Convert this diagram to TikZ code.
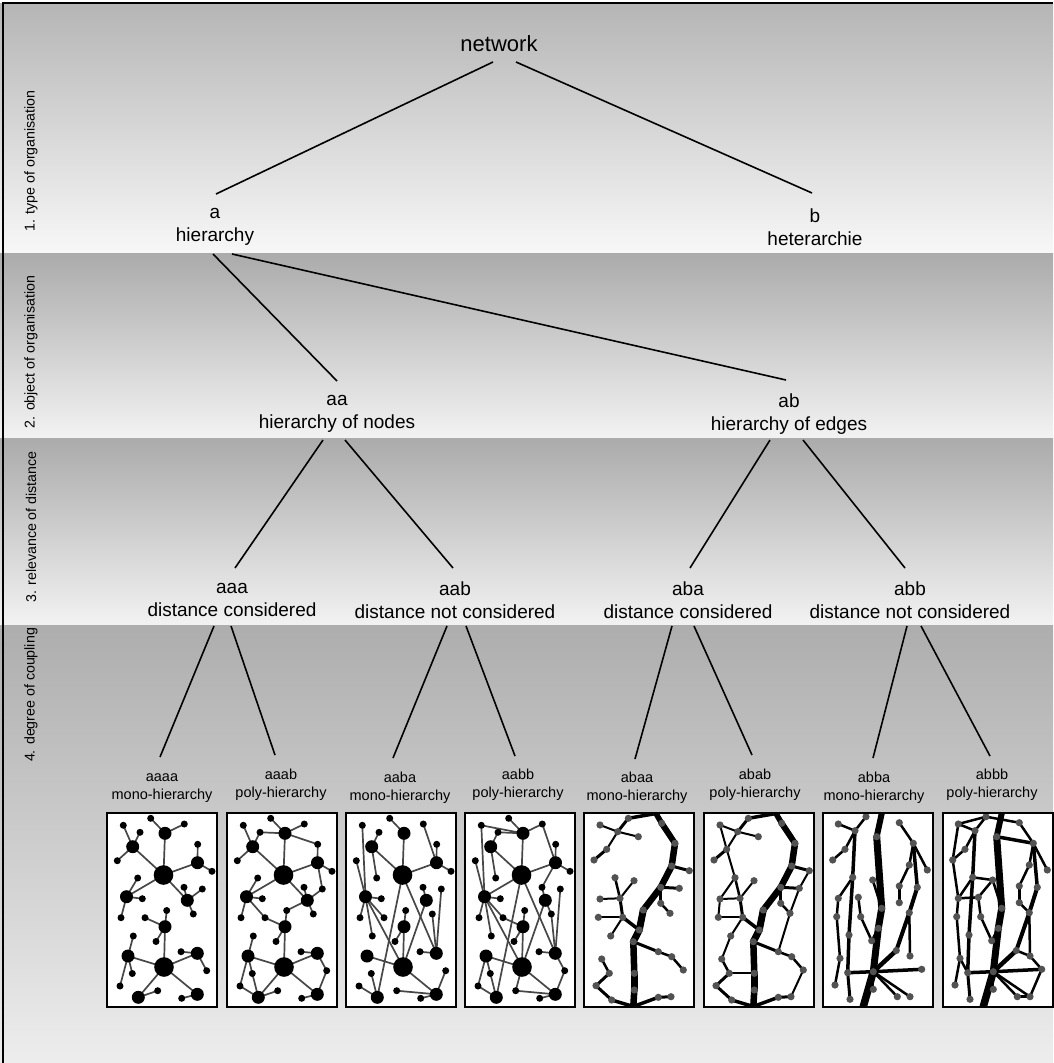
\documentclass[tikz,border=0pt]{standalone}
\usepackage{fontspec}
\setmainfont{Liberation Sans}
\usetikzlibrary{calc}

\newcommand\NodeNetCoords{%
\coordinate (H1) at (56.5,62);
\coordinate (H2) at (57,154);
\coordinate (M1) at (58,20.3);
\coordinate (M2) at (25.7,33.7);
\coordinate (M3) at (90.5,49.7);
\coordinate (M4) at (19.5,83.7);
\coordinate (M5) at (80.3,87.3);
\coordinate (M6) at (58,113.7);
\coordinate (M7) at (21,143);
\coordinate (M8) at (90.3,140.3);
\coordinate (M9) at (31.3,184.3);
\coordinate (M10) at (90.3,181.3);
\coordinate (s1) at (43.7,5.3);
\coordinate (s2) at (77.3,11);
\coordinate (s3) at (16.3,12.3);
\coordinate (s4) at (33,19.3);
\coordinate (s5) at (10.3,47.7);
\coordinate (s6) at (90.7,31.3);
\coordinate (s7) at (105,58.3);
\coordinate (s8) at (30.7,65);
\coordinate (s9) at (35.3,85.7);
\coordinate (s10) at (14,104.7);
\coordinate (s11) at (77,74.3);
\coordinate (s12) at (95.3,76);
\coordinate (s13) at (86.3,101);
\coordinate (s14) at (38,104.7);
\coordinate (s15) at (59.7,97.5);
\coordinate (s16) at (49,128.5);
\coordinate (s17) at (26.3,123);
\coordinate (s18) at (25.3,160.5);
\coordinate (s19) at (13,173);
\coordinate (s20) at (74,138.7);
\coordinate (s21) at (99.7,157.7);
\coordinate (s22) at (50.7,177.7);
\coordinate (s23) at (74.7,185.3);
}
\newcommand\NodeNetDots{%
\foreach \n in {H1,H2} \fill[black] (\n) circle (9.8);
\foreach \n in {M1,M2,M3,M4,M5,M6,M7,M8,M9,M10} \fill[black] (\n) circle (6.5);
\foreach \n in {s1,s2,s3,s4,s5,s6,s7,s8,s9,s10,s11,s12,s13,s14,s15,s16,s17,s18,s19,s20,s21,s22,s23} \fill[black] (\n) circle (3.5);
}
\newcommand\EdgeNetACoords{%
\coordinate (T0) at (72,0.5);
\coordinate (T1) at (77.7,10.3);
\coordinate (T2) at (91,30.3);
\coordinate (T3) at (87.7,53);
\coordinate (T4) at (76.7,74.3);
\coordinate (T5) at (59.3,97);
\coordinate (T6) at (55.3,117);
\coordinate (T7) at (49.3,128.7);
\coordinate (T8) at (50.3,160.3);
\coordinate (T9) at (50.3,177);
\coordinate (T10) at (49.3,193.5);
\coordinate (A1) at (44.3,5.3);
\coordinate (A2) at (33.7,18.7);
\coordinate (A3) at (16,12);
\coordinate (A4) at (54.3,23.7);
\coordinate (A5) at (22.7,36.3);
\coordinate (A6) at (10,47);
\coordinate (B1) at (105.3,57.7);
\coordinate (C1) at (95.3,75.3);
\coordinate (C2) at (76.7,90.3);
\coordinate (C3) at (86,100.3);
\coordinate (D1) at (38.7,104.3);
\coordinate (D2) at (14.3,104.3);
\coordinate (D3) at (26.7,123);
\coordinate (D4) at (36,85.3);
\coordinate (D5) at (16,86);
\coordinate (D6) at (31,64.7);
\coordinate (D7) at (50,67.7);
\coordinate (E1) at (74.3,138.7);
\coordinate (E2) at (87.7,143.7);
\coordinate (E3) at (99.3,157);
\coordinate (F1) at (17.7,146);
\coordinate (F2) at (25.3,160.3);
\coordinate (F3) at (12,172.7);
\coordinate (F4) at (27.7,187);
\coordinate (G1) at (74.3,184.3);
\coordinate (G2) at (87,183.7);
}
\newcommand\EdgeNetAEdges{%
\foreach \p/\q/\w in {T0/T1/5.5,T1/T2/6,T2/T3/6.5,T3/T4/6.5,T4/T5/6.5,T5/T6/7,T6/T7/7,T7/T8/6.5,T8/T9/6.5,T9/T10/6.5,
 T0/A1/3.5,A1/A2/3,A2/A3/2,A2/A4/2,A2/A5/2,A5/A6/3,
 T3/B1/3,T4/C1/3,T4/C2/2.5,C2/C3/2.5,
 T6/D1/3.5,D1/D2/2,D1/D3/2,D1/D4/3,D4/D5/2,D4/D6/2.5,D4/D7/2,
 T7/E1/3,E1/E2/2.5,E2/E3/2.5,
 F1/F2/2.5,F2/F3/3,F3/F4/3,F4/T10/3.5,T10/G1/3.5,G1/G2/3}
 \draw[eedge,line width=\w pt] (\p) -- (\q);
}
\newcommand\EdgeNetADots{%
\foreach \n in {T1,T2,T3,T4,T5,T6,T7,T8,T9,A1,A2,A3,A4,A5,A6,B1,C1,C2,C3,D1,D2,D3,D4,D5,D6,D7,E1,E2,E3,F1,F2,F3,F4,G1,G2}
 \fill[edot] (\n) circle (3.6);
}
\newcommand\EdgeNetBCoords{%
\coordinate (U0) at (58.7,0.5);
\coordinate (U1) at (53.7,23.7);
\coordinate (U2) at (58.7,95.3);
\coordinate (U3) at (55.3,115.3);
\coordinate (U4) at (50.3,158.7);
\coordinate (U5) at (50.3,176.3);
\coordinate (U6) at (40.3,193.5);
\coordinate (V0) at (32,17.7);
\coordinate (V1) at (29.7,64.3);
\coordinate (V2) at (26,122);
\coordinate (V3) at (24.7,159.7);
\coordinate (V4) at (27,186.3);
\coordinate (W1) at (15.3,11);
\coordinate (W2) at (43,3.7);
\coordinate (W3) at (22,36.3);
\coordinate (W4) at (9.7,47);
\coordinate (X1) at (15.3,85.3);
\coordinate (X2) at (13.7,103.7);
\coordinate (X3) at (17,145.3);
\coordinate (X4) at (12,172);
\coordinate (Y1) at (35.3,84.3);
\coordinate (Y2) at (37.7,103.7);
\coordinate (Y3) at (48.7,127.7);
\coordinate (Z1) at (49.7,67);
\coordinate (R0) at (76.3,9.7);
\coordinate (R1) at (90.3,30.3);
\coordinate (R2) at (104.3,57);
\coordinate (R3) at (86.3,52);
\coordinate (R4) at (76.3,73);
\coordinate (R5) at (76.3,89.7);
\coordinate (R6) at (94.3,74.3);
\coordinate (R7) at (86.3,99.7);
\coordinate (R8) at (73.3,137.5);
\coordinate (R9) at (87,143);
\coordinate (Q1) at (98.7,156.3);
\coordinate (Q2) at (74.3,183.7);
\coordinate (Q3) at (87,183.7);
}
\newcommand\EdgeNetBEdges{%
\foreach \p/\q/\w in {U0/U1/6,U1/U2/7,U2/U3/7,U3/U4/7,U4/U6/7.5,
 V0/V1/3.5,V1/V2/3.5,V2/V3/3.5,V3/V4/3,V3/U4/3.5,
 V0/W1/2.5,V0/W2/2.5,V0/W3/2.5,W3/W4/2.5,
 V1/X1/2.5,X1/X2/2.5,X2/X3/2.5,X3/X4/2.5,
 Y1/Y2/2.5,Y2/Y3/2.5,Y3/U3/2.5,Z1/U2/2.5,
 R0/R1/2.5,R1/R2/2.5,R1/R3/2.5,R3/R4/2.5,R4/R5/2.5,R1/R6/3.5,R6/R7/4,R7/R8/4,R8/U4/4.5,R7/R9/2.5,
 U4/Q1/3.5,U4/Q2/2.5,U4/Q3/2.5,U4/U5/2}
 \draw[eedge,line width=\w pt] (\p) -- (\q);
}
\newcommand\EdgeNetBDots{%
\foreach \n in {U1,U2,U3,U4,U5,V0,V1,V2,V3,V4,W1,W2,W3,W4,X1,X2,X3,X4,Y1,Y2,Y3,Z1,R0,R1,R2,R3,R4,R5,R6,R7,R8,R9,Q1,Q2,Q3}
 \fill[edot] (\n) circle (3.6);
}

\begin{document}
\begin{tikzpicture}[x=1pt,y=-1pt,
  lbl/.style={font=\fontsize{19}{23}\selectfont,align=center,inner sep=0pt},
  leaf/.style={font=\fontsize{14.5}{18}\selectfont,align=center,inner sep=0pt},
  side/.style={font=\fontsize{14.2}{16}\selectfont,rotate=90,inner sep=0pt},
  tline/.style={line width=1.6pt,black},
  panel/.style={fill=white,minimum width=110pt,minimum height=194pt,inner sep=0pt,outer sep=0pt},
  pborder/.style={line width=1.2pt,black},
  nedge/.style={draw=black!72,line width=1.7pt},
  eedge/.style={draw=black,line cap=round,line join=round},
  edot/.style={fill=black!68}]
\useasboundingbox (0,0) rectangle (1053,1063);
% bands
\shade[top color=black!29,bottom color=black!3] (0,3) rectangle (1053,253);
\shade[top color=black!33,bottom color=black!5] (0,253) rectangle (1053,438);
\shade[top color=black!33,bottom color=black!5] (0,438) rectangle (1053,625);
\shade[top color=black!32,bottom color=black!7] (0,625) rectangle (1053,1063);
\draw[line width=2.5pt] (3,1063) -- (3,3) -- (1053,3);

% side labels
\node[side] (l1) at (31,161) {1. type of organisation};
\node[side] (l2) at (31,352) {2. object of organisation};
\node[side] (l3) at (31,527) {3. relevance of distance};
\node[side] (l4) at (31,695) {4. degree of coupling};

% tree labels
\node[font=\fontsize{22}{26}\selectfont,inner sep=0pt] (net) at (499,44) {network};
\node[lbl] (a) at (215,227) {a\\hierarchy};
\node[lbl] (b) at (815,227) {b\\heterarchie};
\node[lbl] (aa) at (337,414) {aa\\hierarchy of nodes};
\node[lbl] (ab) at (789,414) {ab\\hierarchy of edges};
\node[lbl] (aaa) at (232,600) {aaa\\distance considered};
\node[lbl] (aab) at (455,600) {aab\\distance not considered};
\node[lbl] (aba) at (688,600) {aba\\distance considered};
\node[lbl] (abb) at (910,600) {abb\\distance not considered};
\node[leaf] (aaaa) at (162,788) {aaaa\\mono-hierarchy};
\node[leaf] (aaab) at (281,785) {aaab\\poly-hierarchy};
\node[leaf] (aaba) at (400,788) {aaba\\mono-hierarchy};
\node[leaf] (aabb) at (518,785) {aabb\\poly-hierarchy};
\node[leaf] (abaa) at (637,788) {abaa\\mono-hierarchy};
\node[leaf] (abab) at (755,785) {abab\\poly-hierarchy};
\node[leaf] (abba) at (874,788) {abba\\mono-hierarchy};
\node[leaf] (abbb) at (992,785) {abbb\\poly-hierarchy};

% tree connectors
\draw[tline] ($(net)+(-6,18)$) -- ($(a)+(1,-33)$);
\draw[tline] ($(net)+(17,18)$) -- ($(b)+(-3,-34)$);
\draw[tline] ($(a)+(-2,27)$) -- ($(aa)+(0,-33)$);
\draw[tline] ($(a)+(17,27)$) -- ($(ab)+(-3,-34)$);
\draw[tline] ($(aa)+(-14,26)$) -- ($(aaa)+(3,-32)$);
\draw[tline] ($(aa)+(8,26)$) -- ($(aab)+(-2,-32)$);
\draw[tline] ($(ab)+(-19,26)$) -- ($(aba)+(2,-32)$);
\draw[tline] ($(ab)+(14,26)$) -- ($(abb)+(-5,-32)$);
\draw[tline] ($(aaa)+(-18,26)$) -- ($(aaaa)+(-2,-31)$);
\draw[tline] ($(aaa)+(-1,26)$) -- ($(aaab)+(-6,-30)$);
\draw[tline] ($(aab)+(-8,26)$) -- ($(aaba)+(-7,-30)$);
\draw[tline] ($(aab)+(11,26)$) -- ($(aabb)+(-3,-29)$);
\draw[tline] ($(aba)+(-16,26)$) -- ($(abaa)+(-2,-29)$);
\draw[tline] ($(aba)+(6,26)$) -- ($(abab)+(-3,-30)$);
\draw[tline] ($(abb)+(-3,26)$) -- ($(abba)+(-1,-30)$);
\draw[tline] ($(abb)+(11,26)$) -- ($(abbb)+(-2,-29)$);

% panels
\node[panel] (p1) at (162,910) {};
\node[panel] (p2) at (282,910) {};
\node[panel] (p3) at (401,910) {};
\node[panel] (p4) at (520,910) {};
\node[panel] (p5) at (639,910) {};
\node[panel] (p6) at (759,910) {};
\node[panel] (p7) at (878,910) {};
\node[panel] (p8) at (998,910) {};

% panel 1: aaaa
\begin{scope}[shift={(p1.north west)}]
\NodeNetCoords
\foreach \p/\q in {H1/M1,H1/M2,H1/M3,H1/M4,H1/M5,H2/M6,H2/M7,H2/M8,H2/M9,H2/M10,M1/s1,M1/s2,M2/s3,M2/s4,M2/s5,M3/s6,M3/s7,M4/s8,M4/s9,M4/s10,M5/s11,M5/s12,M5/s13,M6/s14,M6/s15,M6/s16,M7/s17,M7/s18,M7/s19,M8/s20,M8/s21,M9/s22,M10/s23}
 \draw[nedge] (\p) -- (\q);
\NodeNetDots
\end{scope}
% panel 2: aaab
\begin{scope}[shift={(p2.north west)}]
\NodeNetCoords
\foreach \p/\q in {H1/M1,H1/M2,H1/M3,H1/M4,H1/M5,H2/M6,H2/M7,H2/M8,H2/M9,H2/M10,M1/s1,M1/s2,M2/s3,M2/s4,M2/s5,M3/s6,M3/s7,M4/s8,M4/s9,M4/s10,M5/s11,M5/s12,M5/s13,M6/s14,M6/s15,M6/s16,M7/s17,M7/s18,M7/s19,M8/s20,M8/s21,M9/s22,M10/s23,
 M1/s4,M1/s6,M3/s12,M4/s14,M5/s15,s19/M9,s18/M9,s21/M10}
 \draw[nedge] (\p) -- (\q);
\NodeNetDots
\end{scope}
% panel 3: aaba
\begin{scope}[shift={(p3.north west)}]
\NodeNetCoords
\foreach \p/\q in {M1/H1,M2/H1,M3/H1,M8/H1,M9/H1,M4/H2,M5/H2,M6/H2,M7/H2,M10/H2,
 s1/M1,s2/M3,s3/M4,s4/M2,s5/M4,s6/M3,s7/M3,s8/M2,s9/M4,s10/M4,s11/M5,s12/M8,s13/M8,s14/M4,s15/M6,s16/M6,s17/M4,s18/M9,s19/M9,s20/M8,s21/M10,s22/M10,s23/M10}
 \draw[nedge] (\p) -- (\q);
\NodeNetDots
\end{scope}
% panel 4: aabb
\begin{scope}[shift={(p4.north west)}]
\NodeNetCoords
\foreach \p/\q in {M1/H1,M2/H1,M3/H1,M8/H1,M9/H1,M4/H2,M5/H2,M6/H2,M7/H2,M10/H2,
 s1/M1,s2/M3,s3/M4,s4/M2,s5/M4,s6/M3,s7/M3,s8/M2,s9/M4,s10/M4,s11/M5,s12/M8,s13/M8,s14/M4,s15/M6,s16/M6,s17/M4,s18/M9,s19/M9,s20/M8,s21/M10,s22/M10,s23/M10,
 s3/M1,s4/M1,s2/M1,M4/H1,M3/s11,s14/M6,s19/M7,s18/M7,s22/H2,s21/M8,s13/M5}
 \draw[nedge] (\p) -- (\q);
\NodeNetDots
\end{scope}
% panel 5: abaa
\begin{scope}[shift={(p5.north west)}]
\clip (0,0) rectangle (110,194);
\EdgeNetACoords
\EdgeNetAEdges
\EdgeNetADots
\end{scope}
% panel 6: abab
\begin{scope}[shift={(p6.north west)}]
\clip (0,0) rectangle (110,194);
\EdgeNetACoords
\EdgeNetAEdges
\foreach \p/\q in {A3/A5,A5/D6,D6/D5,D5/D2,D3/F1,F2/T8,B1/C1,C1/C3,C3/E1,E3/G2}
 \draw[eedge,line width=2pt] (\p) -- (\q);
\EdgeNetADots
\end{scope}
% panel 7: abba
\begin{scope}[shift={(p7.north west)}]
\clip (0,0) rectangle (110,194);
\EdgeNetBCoords
\EdgeNetBEdges
\EdgeNetBDots
\end{scope}
% panel 8: abbb
\begin{scope}[shift={(p8.north west)}]
\clip (0,0) rectangle (110,194);
\EdgeNetBCoords
\EdgeNetBEdges
\foreach \p/\q/\w in {W1/W2/2.5,W2/R0/2.5,U1/R1/3.5,W1/W4/2.5,W4/X1/2.5,V1/Z1/2.5,Z1/Y1/2.5,X1/Y1/2.5,R5/R7/2.5,R8/R9/2.5,R9/Q1/2.5,Q1/Q3/2.5,Q2/Q3/2.5,X3/V3/2.5}
 \draw[eedge,line width=\w pt] (\p) -- (\q);
\EdgeNetBDots
\end{scope}

\foreach \p in {p1,p2,p3,p4,p5,p6,p7,p8}
 \draw[pborder] (\p.north west) rectangle (\p.south east);
\end{tikzpicture}
\end{document}
